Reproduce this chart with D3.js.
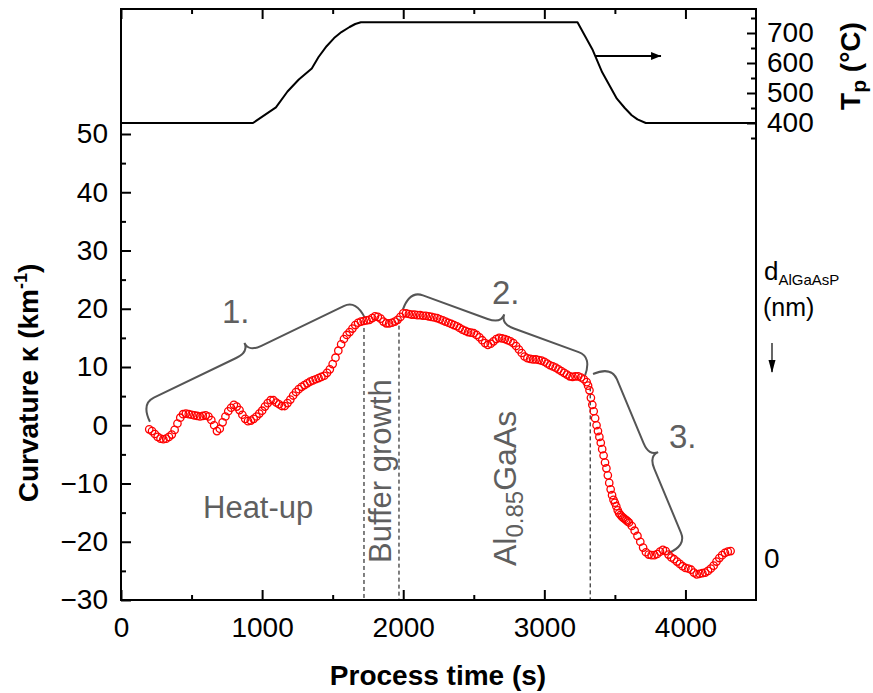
<!DOCTYPE html>
<html>
<head>
<meta charset="utf-8">
<script src="https://cdn.jsdelivr.net/npm/d3@7"></script>
<style>
body { margin: 0; background: #fff; }
svg text { font-family: "Liberation Sans", Arial, sans-serif; }
</style>
</head>
<body>
<script>
// curvature measurement (red open circles)
var time = [200,220,240,260,280,300,320,340,360,380,
  400,420,440,460,480,500,520,540,560,580,
  600,620,640,660,680,700,720,740,760,780,
  800,820,840,860,880,900,920,940,960,980,
  1000,1020,1040,1060,1080,1100,1120,1140,1160,1180,
  1200,1220,1240,1260,1280,1300,1320,1340,1360,1380,
  1400,1420,1440,1460,1480,1500,1520,1540,1560,1580,
  1600,1620,1640,1660,1680,1700,1720,1740,1760,1780,
  1800,1820,1840,1860,1880,1900,1920,1940,1960,1980,
  2000,2020,2040,2060,2080,2100,2120,2140,2160,2180,
  2200,2220,2240,2260,2280,2300,2320,2340,2360,2380,
  2400,2420,2440,2460,2480,2500,2520,2540,2560,2580,
  2600,2620,2640,2660,2680,2700,2720,2740,2760,2780,
  2800,2820,2840,2860,2880,2900,2920,2940,2960,2980,
  3000,3020,3040,3060,3080,3100,3120,3140,3160,3180,
  3200,3220,3240,3260,3280,3300,
  3310,3320,3330,3340,3350,3360,3370,3380,3390,3400,
  3410,3420,3430,3440,3450,3460,3470,3480,3490,3500,
  3510,3520,3530,3540,3550,3560,3570,3580,3590,3600,
  3620,3640,3660,3680,3700,3720,3740,3760,3780,3800,
  3820,3840,3860,3880,3900,3920,3940,3960,3980,4000,
  4020,4040,4060,4080,4100,4120,4140,4160,4180,4200,
  4220,4240,4260,4280,4300,4320];
var kappa = [-0.7,-1.0,-1.5,-2.0,-2.3,-2.4,-2.3,-2.0,-1.6,-0.8,
  0.3,1.3,1.9,2.0,1.9,1.8,1.7,1.6,1.5,1.6,
  1.7,1.5,0.9,0.0,-1.0,-0.6,0.5,1.5,2.4,3.0,
  3.5,3.2,2.6,1.8,1.1,0.7,0.8,1.1,1.5,2.0,
  2.5,3.2,3.8,4.3,4.3,3.9,3.6,3.3,3.3,3.8,
  4.4,5.1,5.7,6.2,6.6,6.9,7.2,7.5,7.7,7.9,
  8.1,8.3,8.5,9.0,9.6,10.5,11.6,12.8,13.9,14.8,
  15.5,16.0,16.6,17.2,17.6,17.8,17.9,18.0,18.1,18.4,
  18.7,18.6,18.3,17.8,17.5,17.5,17.6,17.8,18.1,18.6,
  19.2,19.2,19.1,19.0,19.0,18.9,18.9,18.8,18.8,18.7,
  18.6,18.5,18.4,18.2,18.0,17.8,17.6,17.4,17.2,17.0,
  16.7,16.4,16.2,16.0,15.9,15.8,15.5,15.1,14.6,14.1,
  13.8,14.0,14.4,14.8,15.0,14.9,14.8,14.6,14.4,14.1,
  13.6,13.0,12.4,11.8,11.5,11.4,11.3,11.3,11.2,11.1,
  10.9,10.6,10.3,10.1,9.9,9.6,9.3,9.0,8.7,8.4,
  8.3,8.4,8.4,8.2,7.9,7.4,
  6.8,6.0,4.7,3.5,2.4,1.2,0.0,-1.0,-2.0,-3.0,
  -4.1,-5.2,-6.4,-7.4,-8.6,-9.9,-11.0,-12.0,-12.8,-13.3,
  -13.9,-14.6,-15.1,-15.4,-15.7,-15.9,-16.1,-16.3,-16.5,-16.7,
  -17.3,-18.1,-19.0,-20.0,-21.0,-21.8,-22.2,-22.3,-22.3,-22.1,
  -21.7,-21.4,-21.6,-22.2,-22.7,-23.0,-23.4,-23.8,-24.2,-24.5,
  -24.6,-24.8,-25.3,-25.6,-25.5,-25.4,-25.3,-25.0,-24.6,-24.1,
  -23.4,-22.8,-22.3,-21.9,-21.7,-21.6];

// process temperature (top panel)
var tempTime = [0,935,1098,1180,1260,1352,1400,1457,1510,1562,1620,1660,1700,3235,3340,3410,3514,3570,3619,3660,3719,4500];
var tempVal  = [400,400,452,505,545,582,620,656,683,703,720,730,736,736,646,569,481,450,426,412,400,400];

var xTicks = [0,1000,2000,3000,4000];
var xMinor = [500,1500,2500,3500];
var yTicks = [-30,-20,-10,0,10,20,30,40,50];
var yMinor = [-25,-15,-5,5,15,25,35,45];
var tTicks = [400,500,600,700];
var tMinor = [350,450,550,650,750];

// phase marks: [time, kappa at top of line]
var phaseLines = [[1722,17.9],[1970,18.3],[3325,6.5]];
// braces: start and end point in (time, kappa)
var braces = [
  [[205,0.6],[1729,18.4]],
  [[1998,19.9],[3288,8.5]],
  [[3345,8.8],[3876,-22.0]]
];
var arrowT = [[3359,623],[3827,623]];

var W = 873, H = 693;
var L = 121, R = 756, T = 9, B = 600;
var gray = "#5f5f5f";

var svg = d3.select("body").append("svg")
    .attr("width", W).attr("height", H)
    .style("background", "#fff");

var x = d3.scaleLinear().domain([0,4500]).range([L,R]);
var y = d3.scaleLinear().domain([-30,50]).range([B,134]);
var yT = d3.scaleLinear().domain([400,700]).range([123,33]);

function styleAxis(g) {
    g.select(".domain").remove();
    g.attr("font-size", 28).attr("font-family", null);
    g.selectAll("line").attr("stroke", "#000").attr("stroke-width", 2);
    g.selectAll("text").attr("fill", "#000");
}

// bottom
svg.append("g").attr("transform","translate(0,"+B+")")
    .call(d3.axisBottom(x).tickValues(xTicks).tickSize(-10).tickPadding(17).tickFormat(d3.format("d")))
    .call(styleAxis);
svg.append("g").attr("transform","translate(0,"+B+")")
    .call(d3.axisBottom(x).tickValues(xMinor).tickSize(-5).tickFormat(""))
    .call(styleAxis);
// top
svg.append("g").attr("transform","translate(0,"+T+")")
    .call(d3.axisTop(x).tickValues(xTicks).tickSize(-10).tickFormat(""))
    .call(styleAxis);
svg.append("g").attr("transform","translate(0,"+T+")")
    .call(d3.axisTop(x).tickValues(xMinor).tickSize(-5).tickFormat(""))
    .call(styleAxis);
// left
svg.append("g").attr("transform","translate("+L+",0)")
    .call(d3.axisLeft(y).tickValues(yTicks).tickSize(-10).tickPadding(13))
    .call(styleAxis);
svg.append("g").attr("transform","translate("+L+",0)")
    .call(d3.axisLeft(y).tickValues(yMinor).tickSize(-5).tickFormat(""))
    .call(styleAxis);
// right (temperature)
svg.append("g").attr("transform","translate("+R+",0)")
    .call(d3.axisRight(yT).tickValues(tTicks).tickSize(-9).tickPadding(11))
    .call(styleAxis);
svg.append("g").attr("transform","translate("+R+",0)")
    .call(d3.axisRight(yT).tickValues(tMinor).tickSize(-5).tickFormat(""))
    .call(styleAxis);

svg.append("rect")
    .attr("x", L).attr("y", T).attr("width", R-L).attr("height", B-T)
    .attr("fill", "none").attr("stroke", "#000").attr("stroke-width", 2);

// temperature line
var tempData = d3.zip(tempTime, tempVal);
svg.append("path")
    .datum(tempData)
    .attr("fill", "none").attr("stroke", "#000").attr("stroke-width", 2)
    .attr("stroke-linejoin", "round")
    .attr("d", d3.line().x(function(d){ return x(d[0]); }).y(function(d){ return yT(d[1]); }));

// arrow
svg.append("defs").append("marker")
    .attr("id", "head").attr("viewBox", "0 0 10 10")
    .attr("refX", 10).attr("refY", 5)
    .attr("markerWidth", 14).attr("markerHeight", 10)
    .attr("markerUnits", "userSpaceOnUse")
    .attr("orient", "auto")
    .append("path").attr("d", "M0,1L10,5L0,9Z").attr("fill", "#000");
svg.append("line")
    .attr("x1", x(arrowT[0][0])).attr("y1", yT(arrowT[0][1]))
    .attr("x2", x(arrowT[1][0])).attr("y2", yT(arrowT[1][1]))
    .attr("stroke", "#000").attr("stroke-width", 2)
    .attr("marker-end", "url(#head)");

// dashed phase lines
svg.selectAll(".phase").data(phaseLines).enter().append("line")
    .attr("x1", function(d){ return x(d[0]); }).attr("x2", function(d){ return x(d[0]); })
    .attr("y1", function(d){ return y(d[1]); }).attr("y2", B)
    .attr("stroke", "#000").attr("stroke-width", 1)
    .attr("stroke-dasharray", "4,3");

// braces
function bracePath(p1, p2, h, tip, r) {
    var dx = p2[0]-p1[0], dy = p2[1]-p1[1], len = Math.sqrt(dx*dx+dy*dy);
    var ux = dx/len, uy = dy/len, nx = uy, ny = -ux;
    var mx = (p1[0]+p2[0])/2, my = (p1[1]+p2[1])/2;
    function pt(bx, by, along, off) { return [bx+ux*along+nx*off, by+uy*along+ny*off]; }
    var a = pt(p1[0],p1[1],0,h), b = pt(p1[0],p1[1],r,h),
        c = pt(mx,my,-r,h), cm = pt(mx,my,0,h), t = pt(mx,my,0,tip),
        d = pt(mx,my,r,h), e = pt(p2[0],p2[1],-r,h), f = pt(p2[0],p2[1],0,h);
    return "M"+p1+"Q"+a+" "+b+"L"+c+"Q"+cm+" "+t+"Q"+cm+" "+d+"L"+e+"Q"+f+" "+p2;
}
svg.selectAll(".brace").data(braces).enter().append("path")
    .attr("fill", "none").attr("stroke", "#555").attr("stroke-width", 2)
    .attr("d", function(d){
        return bracePath([x(d[0][0]), y(d[0][1])], [x(d[1][0]), y(d[1][1])], 20, 30, 14);
    });

// curvature circles
var curv = d3.zip(time, kappa);
svg.selectAll(".pt").data(curv).enter().append("circle")
    .attr("cx", function(d){ return x(d[0]); })
    .attr("cy", function(d){ return y(d[1]); })
    .attr("r", 3.7)
    .attr("fill", "none").attr("stroke", "#ff0000").attr("stroke-width", 1.3);

// annotations
function label(txt, px, py, size) {
    return svg.append("text").attr("x", px).attr("y", py)
        .attr("font-size", size).attr("fill", gray).text(txt);
}
label("Heat-up", 203, 518, 31);
label("1.", 222, 323, 33);
label("2.", 492, 304, 33);
label("3.", 669, 448, 33);

svg.append("text").attr("transform", "translate(391,563) rotate(-90)")
    .attr("font-size", 31).attr("fill", gray).text("Buffer growth");
var al = svg.append("text").attr("transform", "translate(516,566) rotate(-90)")
    .attr("font-size", 32).attr("fill", gray);
al.append("tspan").text("Al");
al.append("tspan").attr("font-size", 24).attr("dy", 7).text("0.85");
al.append("tspan").attr("dy", -7).text("GaAs");

// axis titles
svg.append("text").attr("x", 438).attr("y", 685)
    .attr("text-anchor", "middle").attr("font-size", 28).attr("font-weight", "bold")
    .text("Process time (s)");
var yl = svg.append("text").attr("transform", "translate(38,383) rotate(-90)")
    .attr("text-anchor", "middle").attr("font-size", 28).attr("font-weight", "bold");
yl.append("tspan").text("Curvature \u03ba (km");
yl.append("tspan").attr("font-size", 18).attr("dy", -11).text("-1");
yl.append("tspan").attr("dy", 11).text(")");

var tl = svg.append("text").attr("transform", "translate(860,66) rotate(-90)")
    .attr("text-anchor", "middle").attr("font-size", 28).attr("font-weight", "bold");
tl.append("tspan").text("T");
tl.append("tspan").attr("font-size", 21).attr("dy", 6).text("p");
tl.append("tspan").attr("dy", -6).text(" (\u00b0C)");

// right side thickness label
var dl = svg.append("text").attr("x", 764).attr("y", 280).attr("font-size", 26).attr("fill", "#000");
dl.append("tspan").text("d");
dl.append("tspan").attr("font-size", 15).attr("dy", 5).text("AlGaAsP");
svg.append("text").attr("x", 763).attr("y", 316).attr("font-size", 25).text("(nm)");
svg.append("line").attr("x1", 772).attr("y1", 343).attr("x2", 772).attr("y2", 372)
    .attr("stroke", "#000").attr("stroke-width", 1.2);
svg.append("path").attr("d", "M768.5,360L775.5,360L772,373Z").attr("fill", "#000");
svg.append("text").attr("x", 764).attr("y", 568).attr("font-size", 28).text("0");
</script>
</body>
</html>
